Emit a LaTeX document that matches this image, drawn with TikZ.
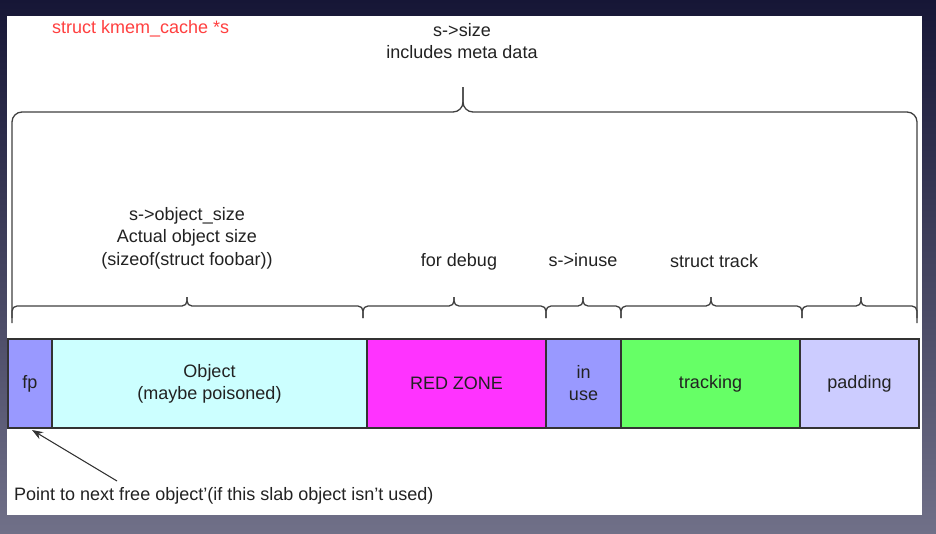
\documentclass[tikz,border=0pt]{standalone}
\usepackage{fontspec}
\setmainfont{Liberation Sans}
\usetikzlibrary{arrows.meta,calc}
\definecolor{bgtop}{RGB}{22,22,54}
\definecolor{bgbot}{RGB}{112,112,136}
\definecolor{txt}{RGB}{34,34,34}
\definecolor{redtxt}{RGB}{255,64,64}
\definecolor{fpblue}{RGB}{153,153,255}
\definecolor{objcyan}{RGB}{204,255,255}
\definecolor{redzone}{RGB}{255,51,255}
\definecolor{trackgreen}{RGB}{102,255,102}
\definecolor{padlav}{RGB}{204,204,255}
\tikzset{
  lbl/.style={inner sep=0pt, text=txt, align=center, font=\fontsize{18}{22.5}\selectfont},
  slot/.style={draw=black!80, line width=1.2pt, minimum height=89pt, inner sep=0pt, outer sep=0pt,
     anchor=west, text=txt, align=center, font=\fontsize{18}{22}\selectfont},
  bracestyle/.style={draw=black!75, line width=1.3pt},
  ptr/.style={draw=black!80, line width=1.1pt, -{Stealth[length=11pt,width=8pt]}}
}
\newcommand\slabbrace[7]{%
  \draw[bracestyle, rounded corners=#7] (#1,#5) -- (#1,#4) -- (#2,#4) -- (#2,#6);
  \draw[bracestyle, rounded corners=#7] (#3,#5) -- (#3,#4) -- (#2,#4) -- (#2,#6);
}
\begin{document}
\begin{tikzpicture}[x=1pt,y=-1pt]
  \shade[top color=bgtop, bottom color=bgbot] (0,0) rectangle (936,533);
  \useasboundingbox (0,0) rectangle (936,533);
  \fill[white] (7,16) rectangle (922,515);

  % title texts
  \node[lbl, text=redtxt, anchor=west] (kmem) at (52,29) {struct kmem\_cache *s};
  \node[lbl] (size) at (462,41) {s->size\\includes meta data};

  % big brace
  \slabbrace{12}{463}{917}{112}{323}{87}{10}

  % sub labels
  \node[lbl] (objsize) at (187,238) {s->object\_size\\Actual object size\\(sizeof(struct foobar))};
  \node[lbl] (debug) at (459,262) {for debug};
  \node[lbl] (inuselbl) at (583,260) {s->inuse};
  \node[lbl] (tracklbl) at (714,261) {struct track};

  % sub braces
  \slabbrace{12}{187}{363}{306}{318}{297}{5}
  \slabbrace{363}{454}{546}{306}{318}{297}{5}
  \slabbrace{546}{583}{621}{306}{318}{297}{5}
  \slabbrace{621}{711}{802}{306}{318}{297}{5}
  \slabbrace{802}{861}{917}{306}{318}{297}{5}

  % slots
  \node[slot, fill=fpblue, minimum width=44pt] (fp) at (8,383.5) {fp};
  \node[slot, fill=objcyan, minimum width=315pt] (obj) at (fp.east) {Object\\(maybe poisoned)};
  \node[slot, fill=redzone, minimum width=179pt] (rz) at (obj.east) {RED ZONE};
  \node[slot, fill=fpblue, minimum width=75pt] (inuse) at (rz.east) {in\\use};
  \node[slot, fill=trackgreen, minimum width=179pt] (track) at (inuse.east) {tracking};
  \node[slot, fill=padlav, minimum width=119pt] (pad) at (track.east) {padding};

  % note and pointer
  \node[lbl, anchor=west] (note) at (14,496) {Point to next free object\char"27(if this slab object isn\char"27t used)};
  \coordinate (tail) at (117,481);
  \draw[ptr] (tail) -- ($(fp.south)+(2,2)$);
\end{tikzpicture}
\end{document}
